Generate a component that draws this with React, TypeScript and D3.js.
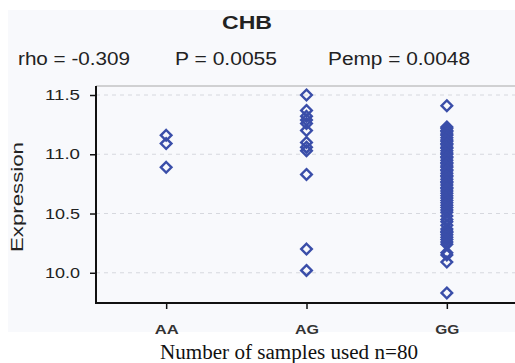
import { useEffect, useRef } from 'react'
import * as d3 from 'd3'

const W = 515
const H = 363
const M = { t: 86, r: -2, b: 60, l: 96 } // plot area: 96..517 x 86..303

const genotypes = ['AA', 'AG', 'GG']
const yTicks = [10.0, 10.5, 11.0, 11.5]

const exprAA = [11.16, 11.09, 10.89]
const exprAG = [11.5, 11.37, 11.32, 11.29, 11.26, 11.2, 11.1, 11.06, 11.03, 10.83, 10.2, 10.02]
const exprGG = [
  11.41, 11.23, 11.22, 11.2, 11.19, 11.17, 11.16, 11.14, 11.12, 11.11, 11.09, 11.08,
  11.06, 11.05, 11.03, 11.01, 11.0, 10.98, 10.97, 10.95, 10.93, 10.92, 10.9, 10.89,
  10.87, 10.86, 10.84, 10.82, 10.81, 10.79, 10.77, 10.76, 10.74, 10.72, 10.71, 10.69,
  10.67, 10.65, 10.63, 10.61, 10.59, 10.57, 10.55, 10.53, 10.51, 10.48, 10.45, 10.43,
  10.4, 10.37, 10.35, 10.34, 10.32, 10.3, 10.28, 10.26, 10.24, 10.17, 10.15, 10.09, 9.83,
]
const series: [string, number[]][] = [['AA', exprAA], ['AG', exprAG], ['GG', exprGG]]

const stats = ['rho = -0.309', 'P = 0.0055', 'Pemp = 0.0048']

const BLUE = '#3a4ea9'
const FONT = 'Liberation Sans, Arial, sans-serif'

export default function App() {
  const ref = useRef<SVGSVGElement>(null)

  useEffect(() => {
    const svg = d3.select(ref.current)
    svg.selectAll('*').remove()
    const pw = W - M.l - M.r
    const ph = H - M.t - M.b

    svg.append('rect').attr('x', 8).attr('y', 10).attr('width', W - 8).attr('height', 322).attr('fill', '#f8f9fc')

    const x = d3.scalePoint<string>().domain(genotypes).range([M.l, M.l + pw]).padding(0.5)
    const y = d3.scaleLinear().domain([9.745, 11.576]).range([M.t + ph, M.t])

    // grid
    yTicks.forEach((t) => svg.append('line').attr('x1', M.l).attr('x2', M.l + pw).attr('y1', y(t)).attr('y2', y(t))
      .attr('stroke', '#d6d8de').attr('stroke-dasharray', '4,4'))
    // top frame
    svg.append('line').attr('x1', M.l).attr('x2', M.l + pw).attr('y1', M.t).attr('y2', M.t).attr('stroke', '#a8a8a8')

    // points
    series.forEach(([g, vals]) => {
      svg.append('g').selectAll('path').data(vals).join('path')
        .attr('d', d3.symbol(d3.symbolDiamond2, 72)())
        .attr('transform', (v) => `translate(${x(g)},${y(v)})`)
        .attr('fill', 'none').attr('stroke', BLUE).attr('stroke-width', 2.4)
    })

    // axes
    const ay = svg.append('g').attr('transform', `translate(${M.l},0)`).call(d3.axisLeft(y).tickValues(yTicks).tickFormat(d3.format('.1f')).tickSize(6).tickPadding(10))
    ay.select('.domain').remove()
    ay.selectAll('.tick line').attr('stroke', '#111').attr('stroke-width', 1.5)
    ay.selectAll('.tick text').attr('fill', '#222').attr('font-size', '14px').attr('font-family', FONT)
      .attr('textLength', 35).attr('lengthAdjust', 'spacingAndGlyphs')
    svg.append('line').attr('x1', M.l).attr('x2', M.l).attr('y1', M.t).attr('y2', M.t + ph + 1).attr('stroke', '#111').attr('stroke-width', 2)

    const ax = svg.append('g').attr('transform', `translate(0,${M.t + ph})`).call(d3.axisBottom(x).tickSize(6).tickPadding(16))
    ax.select('.domain').remove()
    ax.selectAll('.tick line').attr('stroke', '#111').attr('stroke-width', 1.5)
    ax.selectAll('.tick text').attr('fill', '#333').attr('font-size', '13px').attr('font-weight', 'bold').attr('font-family', FONT)
      .attr('textLength', 24).attr('lengthAdjust', 'spacingAndGlyphs')
    svg.append('line').attr('x1', M.l - 1).attr('x2', M.l + pw).attr('y1', M.t + ph).attr('y2', M.t + ph).attr('stroke', '#111').attr('stroke-width', 2)

    // labels
    svg.append('text').attr('x', 247).attr('y', 29).attr('text-anchor', 'middle').attr('font-size', '19px').attr('font-weight', 'bold')
      .attr('font-family', FONT).attr('fill', '#222').attr('textLength', 50).attr('lengthAdjust', 'spacingAndGlyphs').text('CHB')
    const sx = [18, 175, 328]
    const sw = [112, 102, 142]
    stats.forEach((s, i) => svg.append('text').attr('x', sx[i]).attr('y', 65).attr('font-size', '18px').attr('font-family', FONT)
      .attr('fill', '#222').attr('textLength', sw[i]).attr('lengthAdjust', 'spacingAndGlyphs').text(s))
    svg.append('text').attr('transform', `translate(23,197) rotate(-90)`).attr('text-anchor', 'middle')
      .attr('font-size', '17px').attr('font-family', FONT).attr('fill', '#222')
      .attr('textLength', 110).attr('lengthAdjust', 'spacingAndGlyphs').text('Expression')
    svg.append('text').attr('x', 289).attr('y', 359).attr('text-anchor', 'middle').attr('font-size', '20px')
      .attr('font-family', 'Liberation Serif, Times New Roman, serif').attr('fill', '#111')
      .attr('textLength', 258).attr('lengthAdjust', 'spacingAndGlyphs').text('Number of samples used n=80')
  }, [])

  return (
    <div style={{ position: 'fixed', left: 0, top: 0 }}>
      <svg ref={ref} width={W} height={H} style={{ display: 'block', background: '#fff' }} />
    </div>
  )
}
